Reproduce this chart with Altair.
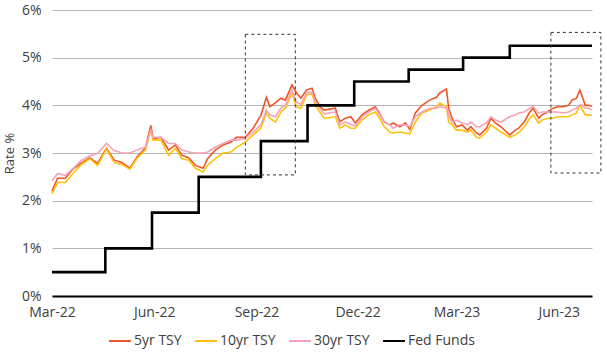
import altair as alt
import pandas as pd

dates = ["2022-03-18","2022-03-23","2022-03-30","2022-04-06","2022-04-13","2022-04-21","2022-04-28",
"2022-05-06","2022-05-13","2022-05-20","2022-05-27","2022-06-03","2022-06-10","2022-06-15","2022-06-17",
"2022-06-24","2022-07-01","2022-07-07","2022-07-13","2022-07-19","2022-07-25","2022-08-01","2022-08-05",
"2022-08-12","2022-08-19","2022-08-26","2022-08-31","2022-09-08","2022-09-15","2022-09-22","2022-09-27",
"2022-09-30","2022-10-05","2022-10-10","2022-10-14","2022-10-20","2022-10-24","2022-10-28","2022-11-02",
"2022-11-07","2022-11-10","2022-11-14","2022-11-18","2022-11-28","2022-12-02","2022-12-07","2022-12-12",
"2022-12-16","2022-12-22","2022-12-28","2023-01-03","2023-01-06","2023-01-11","2023-01-16","2023-01-19",
"2023-01-25","2023-01-30","2023-02-03","2023-02-08","2023-02-14","2023-02-21","2023-02-27","2023-03-02",
"2023-03-08","2023-03-10","2023-03-13","2023-03-17","2023-03-22","2023-03-27","2023-03-30","2023-04-04",
"2023-04-07","2023-04-13","2023-04-17","2023-04-21","2023-04-26","2023-05-04","2023-05-09","2023-05-12",
"2023-05-17","2023-05-22","2023-05-25","2023-05-30","2023-06-02","2023-06-07","2023-06-12","2023-06-16",
"2023-06-21","2023-06-26","2023-06-29","2023-07-03","2023-07-06","2023-07-07","2023-07-11","2023-07-14",
"2023-07-17"]

tsy5 = [2.20,2.47,2.47,2.67,2.78,2.90,2.78,3.10,2.85,2.80,2.68,2.93,3.10,3.58,3.30,3.33,3.06,3.17,2.95,2.90,
2.74,2.68,2.88,3.06,3.17,3.23,3.33,3.33,3.52,3.79,4.17,3.97,4.05,4.15,4.11,4.43,4.26,4.15,4.32,4.36,4.15,
3.97,3.90,3.94,3.65,3.73,3.76,3.63,3.80,3.90,3.97,3.86,3.65,3.59,3.63,3.55,3.63,3.50,3.84,4.00,4.11,4.17,
4.26,4.34,3.94,3.73,3.55,3.59,3.48,3.55,3.42,3.38,3.52,3.73,3.63,3.55,3.38,3.48,3.52,3.65,3.86,3.94,3.73,
3.80,3.86,3.94,3.97,3.97,4.00,4.11,4.15,4.32,4.26,4.00,4.00,3.98]

tsy10 = [2.15,2.38,2.38,2.57,2.75,2.88,2.74,3.08,2.80,2.76,2.66,2.90,3.06,3.48,3.27,3.27,2.95,3.10,2.88,2.85,
2.68,2.60,2.74,2.88,3.00,3.02,3.12,3.23,3.38,3.52,3.84,3.73,3.65,3.86,3.94,4.26,3.97,3.94,4.22,4.24,4.00,
3.86,3.73,3.76,3.52,3.59,3.52,3.52,3.69,3.80,3.86,3.76,3.55,3.44,3.42,3.44,3.42,3.40,3.65,3.84,3.90,3.97,
4.05,3.97,3.65,3.59,3.48,3.48,3.44,3.48,3.33,3.31,3.44,3.59,3.52,3.44,3.33,3.38,3.42,3.55,3.73,3.80,3.63,
3.69,3.73,3.73,3.76,3.76,3.76,3.80,3.84,4.00,3.97,3.80,3.80,3.78]

tsy30 = [2.42,2.57,2.53,2.67,2.84,2.94,2.99,3.20,3.05,3.00,3.00,3.07,3.12,3.48,3.33,3.33,3.20,3.20,3.06,3.02,
3.00,3.00,3.02,3.12,3.20,3.27,3.27,3.31,3.44,3.59,3.90,3.80,3.76,3.94,4.00,4.32,4.07,4.02,4.26,4.28,4.07,
3.94,3.82,3.86,3.59,3.65,3.60,3.57,3.76,3.86,3.94,3.84,3.65,3.59,3.52,3.59,3.59,3.55,3.76,3.86,3.94,3.94,
3.97,3.94,3.80,3.65,3.69,3.63,3.60,3.65,3.55,3.55,3.63,3.76,3.69,3.65,3.76,3.80,3.84,3.86,3.94,3.97,3.84,
3.86,3.86,3.86,3.86,3.84,3.86,3.90,3.94,4.00,4.02,3.94,3.94,3.90]

fed_dates = ["2022-03-18","2022-05-05","2022-06-16","2022-07-28","2022-09-22","2022-11-03","2022-12-15",
"2023-02-02","2023-03-23","2023-05-04","2023-07-17"]
fed_rate = [0.50,1.00,1.75,2.50,3.25,4.00,4.50,4.75,5.00,5.25,5.25]

box_start = ["2022-09-08","2023-06-10"]
box_end = ["2022-10-23","2023-07-25"]
box_low = [2.54,2.58]
box_high = [5.49,5.53]

series_names = ["5yr TSY","10yr TSY","30yr TSY","Fed Funds"]
series_colors = ["#EF5526","#FFC20E","#F4A3B6","#000000"]

rows = []
for name, vals in [("5yr TSY", tsy5), ("10yr TSY", tsy10), ("30yr TSY", tsy30)]:
    for d, v in zip(dates, vals):
        rows.append({"date": d, "rate": v, "series": name})
tsy_df = pd.DataFrame(rows)
fed_df = pd.DataFrame({"date": fed_dates, "rate": fed_rate, "series": "Fed Funds"})
box_df = pd.DataFrame({"x0": box_start, "x1": box_end, "y0": box_low, "y1": box_high})

FONT = "Open Sans"
TXT = "#404040"
FS = 14

xscale = alt.Scale(domain=[alt.DateTime(year=2022, month=3, date=18),
                           alt.DateTime(year=2023, month=7, date=17)], nice=False)
yscale = alt.Scale(domain=[0, 6], nice=False)
color = alt.Color("series:N", scale=alt.Scale(domain=series_names, range=series_colors),
                  sort=series_names,
                  legend=alt.Legend(title=None, orient="none", direction="horizontal",
                                    legendX=56, legendY=319, symbolType="stroke",
                                    symbolSize=480, symbolStrokeWidth=2, labelOffset=2,
                                    columnPadding=9, labelFont=FONT, labelFontSize=FS,
                                    labelColor=TXT))

xaxis = alt.Axis(title=None, format="%b-%y", grid=False, ticks=False, labelFlush=False,
                 values=[alt.DateTime(year=2022, month=3, date=18), alt.DateTime(year=2022, month=6, date=18),
                         alt.DateTime(year=2022, month=9, date=18), alt.DateTime(year=2022, month=12, date=18),
                         alt.DateTime(year=2023, month=3, date=17), alt.DateTime(year=2023, month=6, date=17)],
                 domainColor="#000000", domainWidth=2, labelFont=FONT, labelFontSize=FS,
                 labelColor=TXT, labelPadding=9)
yaxis = alt.Axis(title="Rate %", values=[0, 1, 2, 3, 4, 5, 6], labelExpr="datum.value + '%'",
                 grid=True, gridColor="#B4B4B4", gridWidth=1, domain=False, ticks=False,
                 labelFont=FONT, labelFontSize=FS, labelColor=TXT, labelPadding=11,
                 titleFont=FONT, titleFontSize=13, titleFontWeight="normal", titleColor=TXT,
                 titleX=-43, titleY=143, titleAngle=270, titleBaseline="middle", titleAlign="center")

lines = alt.Chart(tsy_df).mark_line(strokeWidth=1.6).encode(
    x=alt.X("date:T", scale=xscale, axis=xaxis),
    y=alt.Y("rate:Q", scale=yscale, axis=yaxis),
    color=color,
    order=alt.Order("date:T"),
)

fed = alt.Chart(fed_df).mark_line(strokeWidth=2.6, interpolate="step-after").encode(
    x=alt.X("date:T", scale=xscale),
    y=alt.Y("rate:Q", scale=yscale),
    color=color,
)

boxes = alt.Chart(box_df).mark_rect(fillOpacity=0, fill="white", stroke="#333333",
                                    strokeWidth=1, strokeDash=[3, 3]).encode(
    x=alt.X("x0:T", scale=xscale),
    x2="x1:T",
    y=alt.Y("y0:Q", scale=yscale),
    y2="y1:Q",
)

chart = alt.layer(lines, fed, boxes).properties(
    width=540, height=286,
    autosize=alt.AutoSizeParams(type="none"),
    padding={"left": 52, "top": 10, "right": 15, "bottom": 57},
    background="white",
).configure_view(stroke=None)

chart.save("out.html", embed_options={"renderer": "svg", "actions": False})
